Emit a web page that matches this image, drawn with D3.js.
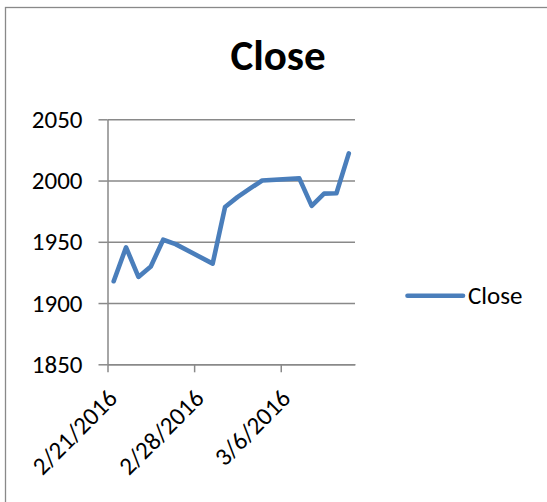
<!DOCTYPE html>
<html><head><meta charset="utf-8">
<script src="https://cdn.jsdelivr.net/npm/d3@7"></script>
<style>
body{margin:0;background:#fff}
svg{display:block}
text{font-family:Carlito,Calibri,Lato,sans-serif;fill:#000}
</style>
</head><body>
<svg id="c" width="547" height="502"></svg>
<script>
// ---- data ----
const dates = ["2016-02-21","2016-02-22","2016-02-23","2016-02-24","2016-02-25","2016-02-26",
               "2016-02-29","2016-03-01","2016-03-02","2016-03-03","2016-03-04",
               "2016-03-07","2016-03-08","2016-03-09","2016-03-10","2016-03-11"];
const closeValues = [1917.8,1945.5,1921.3,1929.8,1951.7,1948.1,
                     1932.2,1978.4,1986.5,1993.4,2000.0,
                     2001.8,1979.3,1989.3,1989.6,2022.2];
const yTicks = [1850,1900,1950,2000,2050];
const xTickDates = ["2016-02-21","2016-02-28","2016-03-06"];
const xTickLabels = ["2/21/2016","2/28/2016","3/6/2016"];
const xDomain = ["2016-02-21","2016-03-12"];
const seriesName = "Close";
const chartTitle = "Close";

// ---- layout ----
const W = 547, H = 502;
const plot = {left:107.5, right:355, top:119.3, bottom:364.3};
const gridColor = "#898989";
const lineColor = "#4a7ebb";
const FONT = "Carlito,Calibri,Lato,sans-serif";
const parse = d3.utcParse("%Y-%m-%d");

const svg = d3.select("#c");

// chart-area border (extends past the picture on the right and bottom)
svg.append("rect").attr("x",5.5).attr("y",7.5).attr("width",W+20).attr("height",H+20)
  .attr("fill","#fff").attr("stroke",gridColor).attr("stroke-width",1.3);

const x = d3.scaleUtc().domain(xDomain.map(parse)).range([plot.left, plot.right]);
const y = d3.scaleLinear().domain([yTicks[0], yTicks[yTicks.length-1]]).range([plot.bottom, plot.top]);

// gridlines
const grid = svg.append("g").attr("transform",`translate(${plot.left},0)`)
  .call(d3.axisLeft(y).tickValues(yTicks).tickSize(-(plot.right-plot.left)).tickFormat(""));
grid.select(".domain").remove();
grid.selectAll("line").attr("stroke",gridColor).attr("stroke-width",1.5);

// y axis
const ya = svg.append("g").attr("transform",`translate(${plot.left},0)`)
  .call(d3.axisLeft(y).tickValues(yTicks).tickSize(9).tickSizeOuter(0).tickPadding(16)
        .tickFormat(d3.format("d")));
ya.select(".domain").attr("stroke",gridColor).attr("stroke-width",1.5);
ya.selectAll("line").attr("stroke",gridColor).attr("stroke-width",1.5);
ya.selectAll("text").attr("font-size",25).attr("font-family",FONT).attr("fill","#000");

// x axis
const xa = svg.append("g").attr("transform",`translate(0,${plot.bottom})`)
  .call(d3.axisBottom(x).tickValues(xTickDates.map(parse)).tickSize(8).tickSizeOuter(0)
        .tickFormat((d,i)=>xTickLabels[i]));
xa.select(".domain").attr("stroke",gridColor).attr("stroke-width",1.5);
xa.selectAll("line").attr("stroke",gridColor).attr("stroke-width",1.5);
xa.selectAll("text").attr("font-size",25).attr("font-family",FONT).attr("fill","#000")
  .attr("text-anchor","end").attr("x",0).attr("y",0).attr("dy",0)
  .attr("transform","translate(10.8,35.5) rotate(-45)");

// line
const pts = dates.map((d,i)=>({date:d3.utcHour.offset(parse(d),12), v:closeValues[i]}));
svg.append("path").datum(pts)
  .attr("d", d3.line().x(d=>x(d.date)).y(d=>y(d.v)))
  .attr("fill","none").attr("stroke",lineColor).attr("stroke-width",4.6)
  .attr("stroke-linejoin","round").attr("stroke-linecap","round");

// title
svg.append("text").attr("x",278).attr("y",69.5).attr("text-anchor","middle")
  .attr("font-size",43).attr("font-weight","bold").text(chartTitle);

// legend
svg.append("line").attr("x1",407.5).attr("x2",463).attr("y1",295.7).attr("y2",295.7)
  .attr("stroke",lineColor).attr("stroke-width",4.6).attr("stroke-linecap","round");
svg.append("text").attr("x",468).attr("y",303.5).attr("font-size",25).text(seriesName);
</script>
</body></html>
